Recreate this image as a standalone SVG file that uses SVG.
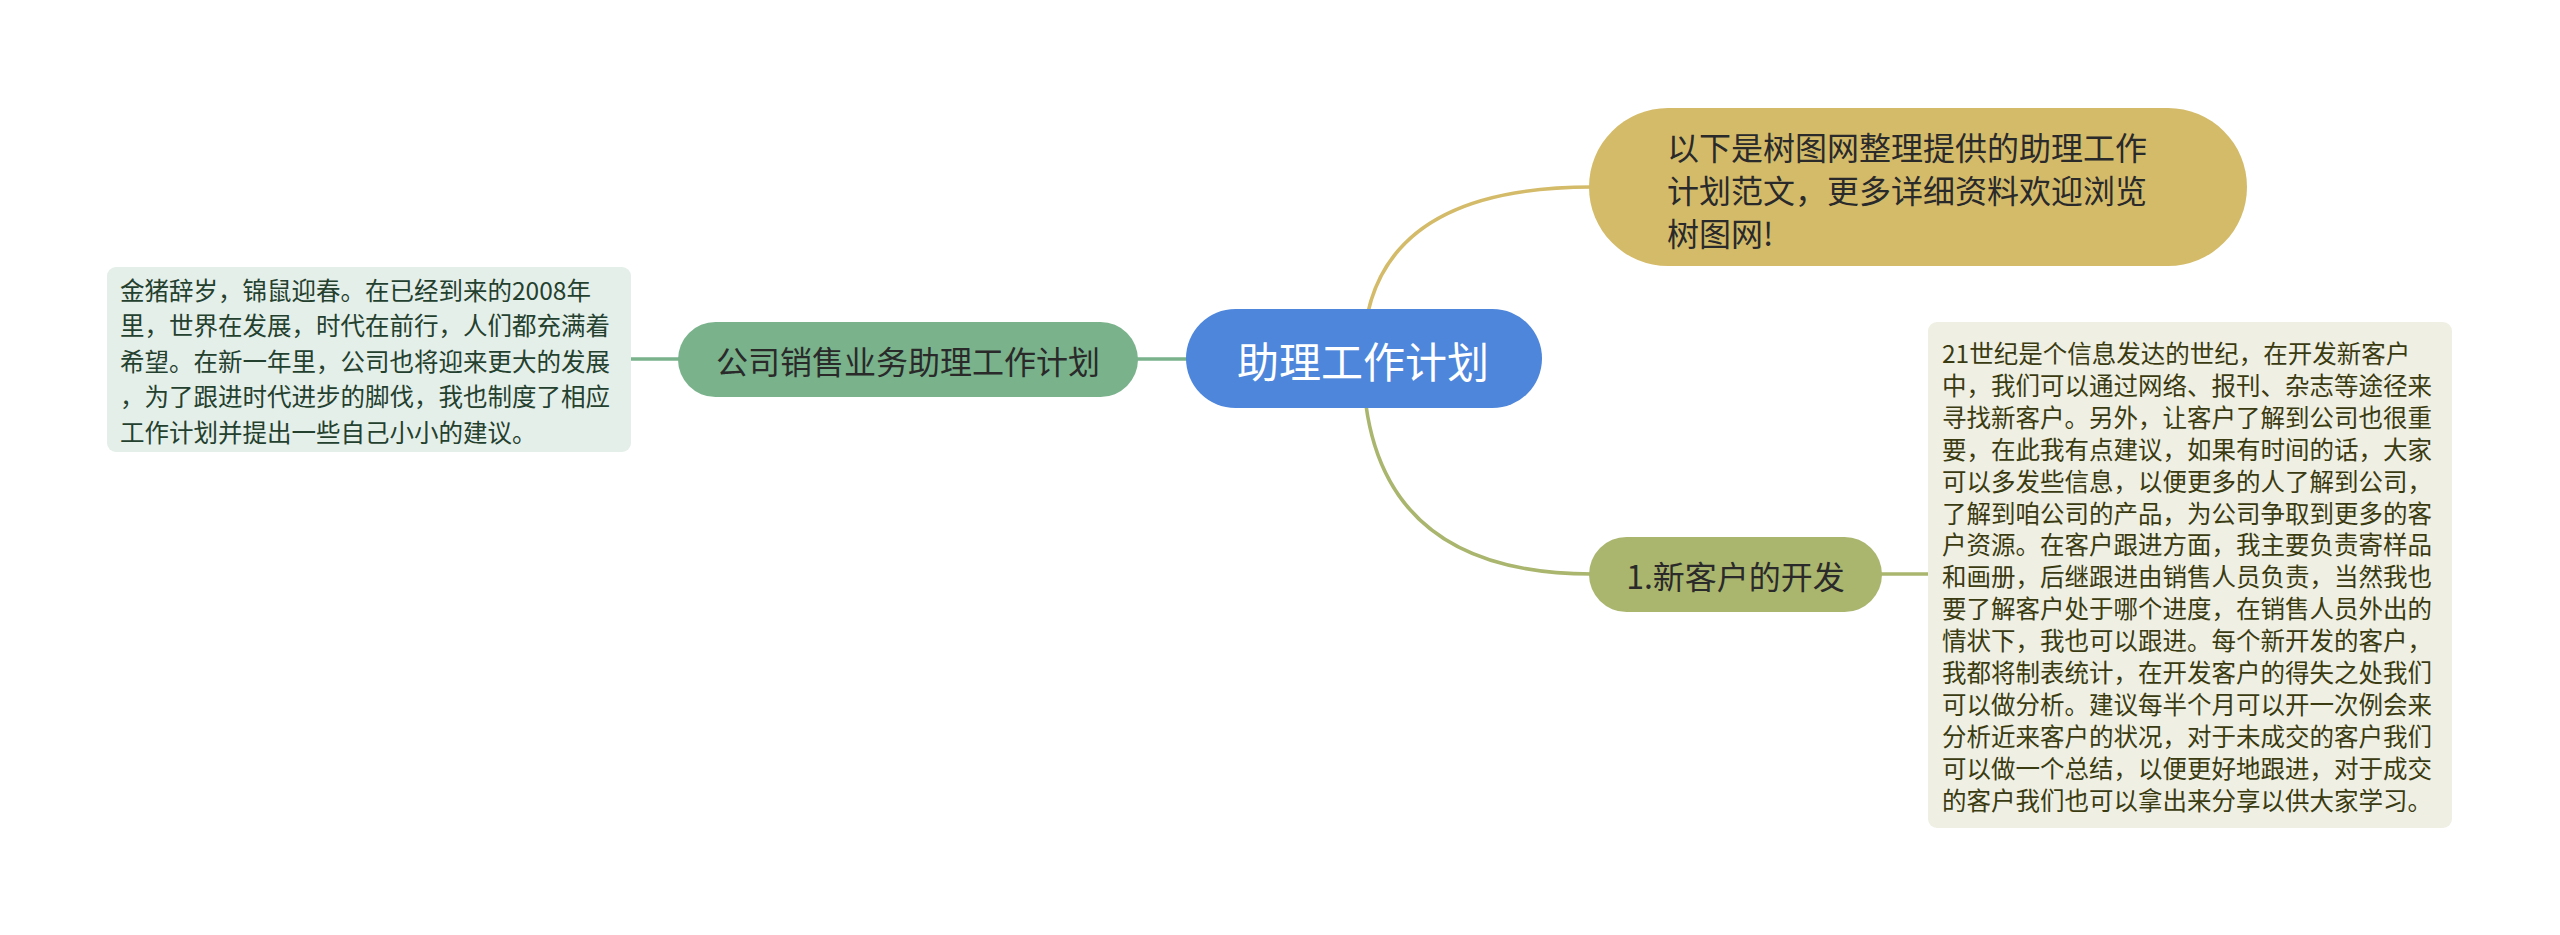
<svg xmlns="http://www.w3.org/2000/svg" width="2560" height="935" viewBox="0 0 2560 935">
<style>
text { font-family: "Noto Sans CJK SC", "Noto Sans", sans-serif; dominant-baseline: central; }
.c { fill: none; stroke-width: 3.5; }
.main { fill: #ffffff; font-size: 42px; }
.t1 { fill: #2a2a2a; font-size: 32px; }
.leafL { fill: #24402e; font-size: 24.5px; }
.leafR { fill: #3b3b12; font-size: 24.5px; }
</style>
<rect width="2560" height="935" fill="#ffffff"/>
<g id="connectors">
  <line class="c" x1="630" y1="359" x2="1190" y2="359" stroke="#79b28b"/>
  <path class="c" d="M1363,359 Q1363,187 1592,187" stroke="#d4bb6a"/>
  <path class="c" d="M1363,359 Q1363,574 1592,574" stroke="#aab56e"/>
  <line class="c" x1="1878" y1="574" x2="1930" y2="574" stroke="#aab56e"/>
</g>
<g id="root">
  <rect x="1186" y="309" width="356" height="99" rx="49.5" fill="#4d86db"/>
  <text class="main" x="1363" y="359" text-anchor="middle">助理工作计划</text>
</g>
<g id="node-left">
  <rect x="678" y="322" width="460" height="75" rx="37.5" fill="#79b28b"/>
  <text class="t1" x="908" y="359.5" text-anchor="middle">公司销售业务助理工作计划</text>
</g>
<g id="leaf-left">
  <rect x="107" y="267" width="524" height="185" rx="9" fill="#e4efe9"/>
  <text class="leafL" x="120" y="289">金猪辞岁，锦鼠迎春。在已经到来的2008年</text>
  <text class="leafL" x="120" y="324.5">里，世界在发展，时代在前行，人们都充满着</text>
  <text class="leafL" x="120" y="360">希望。在新一年里，公司也将迎来更大的发展</text>
  <text class="leafL" x="120" y="395.5">，为了跟进时代进步的脚伐，我也制度了相应</text>
  <text class="leafL" x="120" y="431">工作计划并提出一些自己小小的建议。</text>
</g>
<g id="node-top">
  <rect x="1589" y="108" width="658" height="158" rx="79" fill="#d4bb6a"/>
  <text class="t1" x="1667" y="146">以下是树图网整理提供的助理工作</text>
  <text class="t1" x="1667" y="189">计划范文，更多详细资料欢迎浏览</text>
  <text class="t1" x="1667" y="232">树图网!</text>
</g>
<g id="node-bottom">
  <rect x="1589" y="537" width="293" height="75" rx="37.5" fill="#aab56e"/>
  <text class="t1" x="1735.5" y="574.5" text-anchor="middle">1.新客户的开发</text>
</g>
<g id="leaf-right">
  <rect x="1928" y="322" width="524" height="506" rx="9" fill="#eff0e3"/>
  <text class="leafR" x="1942" y="352.5">21世纪是个信息发达的世纪，在开发新客户</text>
  <text class="leafR" x="1942" y="384.4">中，我们可以通过网络、报刊、杂志等途径来</text>
  <text class="leafR" x="1942" y="416.3">寻找新客户。另外，让客户了解到公司也很重</text>
  <text class="leafR" x="1942" y="448.2">要，在此我有点建议，如果有时间的话，大家</text>
  <text class="leafR" x="1942" y="480.1">可以多发些信息，以便更多的人了解到公司，</text>
  <text class="leafR" x="1942" y="512">了解到咱公司的产品，为公司争取到更多的客</text>
  <text class="leafR" x="1942" y="543.9">户资源。在客户跟进方面，我主要负责寄样品</text>
  <text class="leafR" x="1942" y="575.8">和画册，后继跟进由销售人员负责，当然我也</text>
  <text class="leafR" x="1942" y="607.7">要了解客户处于哪个进度，在销售人员外出的</text>
  <text class="leafR" x="1942" y="639.6">情状下，我也可以跟进。每个新开发的客户，</text>
  <text class="leafR" x="1942" y="671.5">我都将制表统计，在开发客户的得失之处我们</text>
  <text class="leafR" x="1942" y="703.4">可以做分析。建议每半个月可以开一次例会来</text>
  <text class="leafR" x="1942" y="735.3">分析近来客户的状况，对于未成交的客户我们</text>
  <text class="leafR" x="1942" y="767.2">可以做一个总结，以便更好地跟进，对于成交</text>
  <text class="leafR" x="1942" y="799.1">的客户我们也可以拿出来分享以供大家学习。</text>
</g>
</svg>
